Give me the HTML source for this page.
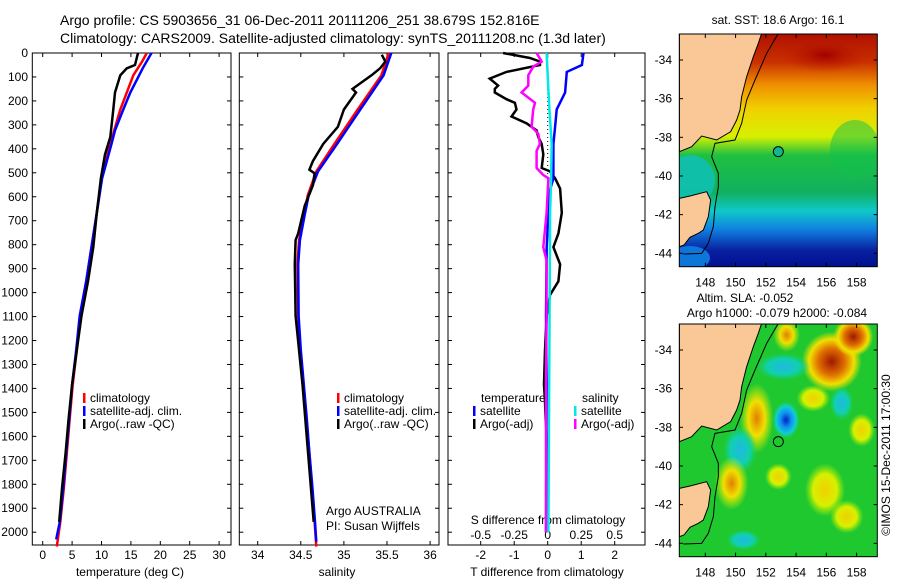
<!DOCTYPE html>
<html><head><meta charset="utf-8">
<style>
body{margin:0;background:#fff;}
svg text{font-family:"Liberation Sans",sans-serif;}
</style></head>
<body>
<svg id="chart" width="900" height="580" viewBox="0 0 900 580" xmlns="http://www.w3.org/2000/svg">
<defs>
<linearGradient id="sstg" x1="0" y1="0" x2="0" y2="1">
<stop offset="0" stop-color="#b01000"/>
<stop offset="0.12" stop-color="#c83000"/>
<stop offset="0.22" stop-color="#f09000"/>
<stop offset="0.32" stop-color="#f0d000"/>
<stop offset="0.44" stop-color="#d8f000"/>
<stop offset="0.52" stop-color="#20c040"/>
<stop offset="0.68" stop-color="#10b060"/>
<stop offset="0.76" stop-color="#10c8c8"/>
<stop offset="0.84" stop-color="#1080e0"/>
<stop offset="0.93" stop-color="#0820a0"/>
<stop offset="1" stop-color="#001090"/>
</linearGradient>
<radialGradient id="hot"><stop offset="0" stop-color="#a01800"/><stop offset="0.45" stop-color="#e07000"/><stop offset="0.75" stop-color="#f0e000"/><stop offset="1" stop-color="#f0e000" stop-opacity="0"/></radialGradient>
<radialGradient id="warm"><stop offset="0" stop-color="#e08000"/><stop offset="0.5" stop-color="#f0e000"/><stop offset="1" stop-color="#d0f000" stop-opacity="0"/></radialGradient>
<radialGradient id="yel"><stop offset="0" stop-color="#f0d000"/><stop offset="0.6" stop-color="#d8f000"/><stop offset="1" stop-color="#a0f000" stop-opacity="0"/></radialGradient>
<radialGradient id="cold"><stop offset="0" stop-color="#0020c0"/><stop offset="0.4" stop-color="#1090f0"/><stop offset="0.75" stop-color="#10d0d0"/><stop offset="1" stop-color="#10d0a0" stop-opacity="0"/></radialGradient>
<radialGradient id="cyan"><stop offset="0" stop-color="#20b8e0"/><stop offset="0.6" stop-color="#10d0b0"/><stop offset="1" stop-color="#10d090" stop-opacity="0"/></radialGradient>
<radialGradient id="sstred"><stop offset="0" stop-color="#a00000"/><stop offset="1" stop-color="#c02000" stop-opacity="0"/></radialGradient>
<clipPath id="m1c"><rect x="679.3" y="34" width="198" height="232.7"/></clipPath>
<clipPath id="m2c"><rect x="679.3" y="324" width="198" height="232.7"/></clipPath>
</defs>

<text x="60" y="25" font-size="14">Argo profile: CS 5903656_31 06-Dec-2011 20111206_251 38.679S 152.816E</text>
<text x="60" y="43" font-size="14">Climatology: CARS2009. Satellite-adjusted climatology: synTS_20111208.nc (1.3d later)</text>

<g id="p1"></g>
<g id="p2"></g>
<g id="p3"></g>

<!-- Map 1 SST -->
<g>
<text x="778" y="24" font-size="12" text-anchor="middle">sat. SST: 18.6 Argo: 16.1</text>
<g clip-path="url(#m1c)">
<rect x="679.3" y="34" width="198" height="232.7" fill="url(#sstg)"/>
<ellipse cx="825" cy="55" rx="45" ry="18" fill="url(#sstred)"/>
<ellipse cx="855" cy="150" rx="25" ry="30" fill="#10c050" opacity="0.5"/>
<ellipse cx="690" cy="180" rx="25" ry="25" fill="#10c0b0" opacity="0.9"/>
<ellipse cx="690" cy="258" rx="20" ry="12" fill="#1080e0" opacity="0.9"/>
<g transform="translate(640,0) scale(0.33333)">
<polygon fill="#f9c896" stroke="#000" stroke-width="3" points="118,100 365,100 355,130 340,170 320,230 305,290 300,330 290,360 272,395 230,420 185,408 155,440 118,455"/>
<polygon fill="#f9c896" stroke="#000" stroke-width="3" points="118,595 150,588 200,575 212,600 205,650 190,690 175,700 150,712 132,735 118,740"/>
<polyline fill="none" stroke="#000" stroke-width="3" points="415,100 380,160 345,240 320,300 305,370 285,420 225,430 215,470 235,520 235,560 225,620 220,680 205,730 185,760 130,762"/>
<circle cx="415" cy="455" r="15" fill="#10b890" stroke="#000" stroke-width="3"/>
</g>
</g>
<rect x="679.3" y="34" width="198" height="232.7" fill="none" stroke="#000"/>
<g id="m1ax"></g>
</g>

<!-- Map 2 SLA -->
<g>
<text x="745" y="302" font-size="12" text-anchor="middle">Altim. SLA: -0.052</text>
<text x="777" y="317" font-size="12" text-anchor="middle">Argo h1000: -0.079 h2000: -0.084</text>
<g clip-path="url(#m2c)">
<rect x="679.3" y="324" width="198" height="232.7" fill="#20c830"/>
<g transform="translate(640,290) scale(0.33333)">
<ellipse cx="575" cy="215" rx="90" ry="90" fill="url(#hot)"/>
<ellipse cx="640" cy="140" rx="60" ry="60" fill="url(#hot)"/>
<ellipse cx="350" cy="385" rx="50" ry="105" fill="url(#warm)"/>
<ellipse cx="440" cy="135" rx="40" ry="50" fill="url(#warm)"/>
<ellipse cx="438" cy="390" rx="40" ry="55" fill="url(#cold)"/>
<ellipse cx="300" cy="480" rx="50" ry="70" fill="url(#cyan)"/>
<ellipse cx="430" cy="230" rx="80" ry="40" fill="url(#cyan)"/>
<ellipse cx="605" cy="340" rx="35" ry="50" fill="url(#cyan)"/>
<ellipse cx="275" cy="580" rx="50" ry="80" fill="url(#warm)"/>
<ellipse cx="555" cy="600" rx="60" ry="80" fill="url(#yel)"/>
<ellipse cx="520" cy="325" rx="50" ry="40" fill="url(#yel)"/>
<ellipse cx="665" cy="420" rx="40" ry="50" fill="url(#yel)"/>
<ellipse cx="415" cy="560" rx="40" ry="40" fill="url(#yel)"/>
<ellipse cx="620" cy="680" rx="50" ry="50" fill="url(#yel)"/>
<ellipse cx="310" cy="750" rx="50" ry="30" fill="url(#cyan)"/>
<polygon fill="#f9c896" stroke="#000" stroke-width="3" points="118,100 365,100 355,130 340,170 320,230 305,290 300,330 290,360 272,395 230,420 185,408 155,440 118,455"/>
<polygon fill="#f9c896" stroke="#000" stroke-width="3" points="118,595 150,588 200,575 212,600 205,650 190,690 175,700 150,712 132,735 118,740"/>
<polyline fill="none" stroke="#000" stroke-width="3" points="415,100 380,160 345,240 320,300 305,370 285,420 225,430 215,470 235,520 235,560 225,620 220,680 205,730 185,760 130,762"/>
<circle cx="415" cy="455" r="15" fill="none" stroke="#000" stroke-width="3"/>
</g>
</g>
<rect x="679.3" y="324" width="198" height="232.7" fill="none" stroke="#000"/>
<g id="m2ax"></g>
</g>
<text transform="translate(890,455) rotate(-90)" font-size="12" text-anchor="middle">©IMOS 15-Dec-2011 17:00:30</text>
</svg>
<script>
// ---- data ----
const depthTicks=[0,100,200,300,400,500,600,700,800,900,1000,1100,1200,1300,1400,1500,1600,1700,1800,1900,2000];
const tempTicks=[0,5,10,15,20,25,30];
const salTicks=[34,34.5,35,35.5,36];
const dTTicks=[-2,-1,0,1,2];
const dSTicks=[-0.5,-0.25,0,0.25,0.5];
const dSLabels=["-0.5","-0.25","0","0.25","0.5"];

const tClimDepth=[0,36,93,165,236,337,380,523,667,810,953,1097,1240,1384,1527,1670,1813,1957,2060];
const tClimVal=[17.7,16.9,15.4,14.3,13.2,12.0,11.5,10.0,9.2,8.3,7.4,6.35,5.8,5.1,4.6,4.1,3.6,3.0,2.4];
const tSatDepth=[0,64,165,236,323,380,523,667,810,953,1097,1240,1384,1527,1670,1813,1957,2030];
const tSatVal=[18.5,17.0,14.9,13.7,12.3,11.7,10.1,9.2,8.3,7.4,6.3,5.7,5.0,4.5,4.0,3.5,2.9,2.3];
const tArgoDepth=[0,50,64,93,165,236,351,423,523,667,810,953,1097,1240,1384,1527,1670,1813,1957];
const tArgoVal=[16.2,15.7,14.3,13.2,12.3,12.0,11.5,10.6,9.9,9.2,8.6,7.7,6.6,5.8,5.0,4.4,3.9,3.3,2.8];

const sClimDepth=[0,93,236,380,494,595,667,781,882,1097,1240,1384,1527,1670,1813,1957,2060];
const sClimVal=[35.52,35.435,35.16,34.89,34.68,34.58,34.545,34.48,34.46,34.47,34.495,34.53,34.565,34.6,34.63,34.66,34.68];
const sSatDepth=[0,93,236,380,494,595,667,781,882,1097,1240,1384,1527,1670,1813,1957,2040];
const sSatVal=[35.55,35.46,35.19,34.92,34.70,34.59,34.55,34.49,34.47,34.475,34.5,34.535,34.57,34.6,34.635,34.665,34.68];
const sArgoDepth=[7,36,64,93,150,165,236,308,380,451,487,502,552,638,753,781,882,1097,1384,1957];
const sArgoVal=[35.44,35.48,35.42,35.32,35.1,35.14,35.0,34.93,34.76,34.64,34.6,34.66,34.64,34.545,34.47,34.44,34.43,34.44,34.52,34.65];

const dDepthA=[0,21,36,50,79,107,136,150,165,193,208,236,265,294,323,351,380,423,480,494,523,566,667,753,810,882,953,1010,1097,1240,1384,1455,1527,1599,1670,2000];
const dTArgo=[-1.33,-0.53,-0.23,-0.23,-1.23,-1.73,-1.48,-1.58,-1.58,-1.23,-0.98,-0.93,-1.08,-0.63,-0.33,-0.28,-0.18,-0.13,-0.18,0.07,0.22,0.37,0.42,0.32,0.17,0.37,0.32,0.07,-0.03,-0.08,-0.11,-0.08,-0.06,-0.03,-0.01,0.0];
const dDepthSat=[0,50,79,165,236,308,380,523,595,667,810,1097,1384,2000];
const dTSat=[1.07,1.02,0.57,0.52,0.27,0.22,0.17,0.17,0.02,0.02,-0.03,-0.05,-0.03,-0.05];
const dDepthS=[0,36,57,93,136,165,208,236,308,337,380,408,480,509,523,667,738,810,867,1097,1384,2000];
const dSArgo=[-0.083,-0.045,-0.108,-0.145,-0.145,-0.195,-0.095,-0.108,-0.12,-0.07,-0.058,-0.083,-0.083,-0.033,0.005,-0.008,-0.02,-0.033,-0.008,-0.008,-0.013,-0.013];
const dDepthC=[0,236,380,523,667,2000];
const dSSat=[-0.008,0.013,0.03,0.025,0.018,0.005];

const latTicks=[-34,-36,-38,-40,-42,-44];
const lonTicks=[148,150,152,154,156,158];

// ---- axes ----
const NS="http://www.w3.org/2000/svg";
function mk(tag,attrs,parent){const e=document.createElementNS(NS,tag);for(const k in attrs)e.setAttribute(k,attrs[k]);parent.appendChild(e);return e;}
const Y0=53, YS=0.2396, YBOT=545;
const yOf=d=>Y0+d*YS;
const xT=t=>42.7+t*5.88;
const xS=s=>257.7+(s-34)*86.2;
const xD=t=>547.7+t*33.5;
const xDS=s=>547.7+s*134;

function frame(g,x0,x1){
  mk('rect',{x:x0,y:Y0,width:x1-x0,height:YBOT-Y0,fill:'none',stroke:'#000'},g);
  depthTicks.forEach(d=>{
    mk('line',{x1:x0,x2:x0+4,y1:yOf(d),y2:yOf(d),stroke:'#000'},g);
    mk('line',{x1:x1-4,x2:x1,y1:yOf(d),y2:yOf(d),stroke:'#000'},g);
  });
}
function line(g,depths,vals,xf,color,name,w){
  const pts=depths.map((d,i)=>xf(vals[i]).toFixed(1)+','+yOf(d).toFixed(1)).join(' ');
  const p=mk('polyline',{points:pts,fill:'none',stroke:color,'stroke-width':w||2.5},g);
  
  
}
function legend(g,x,y,color,label,name){
  mk('rect',{x:x,y:y-5,width:2.5,height:10,fill:color},g);
  const t=mk('text',{x:x+7,y:y+4,'font-size':12},g);t.textContent=label;
  
  
}
const LY=398;
// panel 1
const p1=document.getElementById('p1');
frame(p1,32.3,231);
depthTicks.forEach(d=>{const t=mk('text',{x:28,y:yOf(d)+4,'font-size':12,'text-anchor':'end'},p1);t.textContent=d;
 
 });
tempTicks.forEach(v=>{mk('line',{x1:xT(v),x2:xT(v),y1:YBOT,y2:YBOT-4,stroke:'#000'},p1);mk('line',{x1:xT(v),x2:xT(v),y1:Y0,y2:Y0+4,stroke:'#000'},p1);
 const t=mk('text',{x:xT(v),y:559,'font-size':12,'text-anchor':'middle'},p1);t.textContent=v;
 
 });
{const t=mk('text',{x:130,y:576,'font-size':12,'text-anchor':'middle'},p1);t.textContent='temperature (deg C)';
 
 }
line(p1,tClimDepth,tClimVal,xT,'#ff0000','temperature-climatology-line');
line(p1,tSatDepth,tSatVal,xT,'#0000ff','temperature-satellite-line');
line(p1,tArgoDepth,tArgoVal,xT,'#000000','temperature-argo-line');
legend(p1,83,LY,'#ff0000','climatology','legend-climatology');
legend(p1,83,LY+13,'#0000ff','satellite-adj. clim.','legend-satellite');
legend(p1,83,LY+26,'#000000','Argo(..raw -QC)','legend-argo');

// panel 2
const p2=document.getElementById('p2');
frame(p2,239.3,439);
salTicks.forEach(v=>{mk('line',{x1:xS(v),x2:xS(v),y1:YBOT,y2:YBOT-4,stroke:'#000'},p2);mk('line',{x1:xS(v),x2:xS(v),y1:Y0,y2:Y0+4,stroke:'#000'},p2);
 const t=mk('text',{x:xS(v),y:559,'font-size':12,'text-anchor':'middle'},p2);t.textContent=v;
 
 });
{const t=mk('text',{x:337,y:576,'font-size':12,'text-anchor':'middle'},p2);t.textContent='salinity';
 
 }
line(p2,sClimDepth,sClimVal,xS,'#ff0000','salinity-climatology-line');
line(p2,sSatDepth,sSatVal,xS,'#0000ff','salinity-satellite-line');
line(p2,sArgoDepth,sArgoVal,xS,'#000000','salinity-argo-line');
legend(p2,337,LY,'#ff0000','climatology','legend-climatology-2');
legend(p2,337,LY+13,'#0000ff','satellite-adj. clim.','legend-satellite-2');
legend(p2,337,LY+26,'#000000','Argo(..raw -QC)','legend-argo-2');
{const t=mk('text',{x:326,y:515,'font-size':12},p2);t.textContent='Argo AUSTRALIA';
 
 
 const t2=mk('text',{x:326,y:530,'font-size':12},p2);t2.textContent='PI: Susan Wijffels';
 
 }

// panel 3
const p3=document.getElementById('p3');
frame(p3,448,645);
mk('line',{x1:547.7,x2:547.7,y1:Y0,y2:yOf(700),stroke:'#000','stroke-dasharray':'1,3'},p3);
dTTicks.forEach(v=>{mk('line',{x1:xD(v),x2:xD(v),y1:YBOT,y2:YBOT-4,stroke:'#000'},p3);mk('line',{x1:xD(v),x2:xD(v),y1:Y0,y2:Y0+4,stroke:'#000'},p3);
 const t=mk('text',{x:xD(v),y:559,'font-size':12,'text-anchor':'middle'},p3);t.textContent=v;
 
 });
dSTicks.forEach((v,i)=>{const t=mk('text',{x:xDS(v),y:539,'font-size':12,'text-anchor':'middle'},p3);t.textContent=dSLabels[i];
 
 });
{const t=mk('text',{x:548,y:524,'font-size':12,'text-anchor':'middle'},p3);t.textContent='S difference from climatology';
 
 
 const t2=mk('text',{x:547,y:576,'font-size':12,'text-anchor':'middle'},p3);t2.textContent='T difference from climatology';
 
 }
line(p3,dDepthA,dTArgo,xD,'#000000','t-diff-argo-line');
line(p3,dDepthSat,dTSat,xD,'#0000ff','t-diff-satellite-line');
line(p3,dDepthS,dSArgo,xDS,'#ff00ff','s-diff-argo-line');
line(p3,dDepthC,dSSat,xDS,'#00e8e8','s-diff-satellite-line');
{const t=mk('text',{x:481,y:LY+4,'font-size':12},p3);t.textContent='temperature';
 
 
 const t2=mk('text',{x:582,y:LY+4,'font-size':12},p3);t2.textContent='salinity';
 
 }
legend(p3,473,LY+13,'#0000ff','satellite','legend-t-satellite');
legend(p3,473,LY+26,'#000000','Argo(-adj)','legend-t-argo');
legend(p3,574,LY+13,'#00e8e8','satellite','legend-s-satellite');
legend(p3,574,LY+26,'#ff00ff','Argo(-adj)','legend-s-argo');

// map axes
function mapAxes(id,top){
  const g=document.getElementById(id);
  const bottom=top+232.7;
  const yLat=l=>top+26+(-34-l)*19.33;
  const xLon=l=>705.3+(l-148)*15.13;
  latTicks.forEach(l=>{
    mk('line',{x1:679.3,x2:683,y1:yLat(l),y2:yLat(l),stroke:'#000'},g);
    mk('line',{x1:873.6,x2:877.3,y1:yLat(l),y2:yLat(l),stroke:'#000'},g);
    const t=mk('text',{x:672,y:yLat(l)+4,'font-size':12,'text-anchor':'end'},g);t.textContent=l;
    
    
  });
  lonTicks.forEach(l=>{
    mk('line',{x1:xLon(l),x2:xLon(l),y1:top,y2:top+4,stroke:'#000'},g);
    mk('line',{x1:xLon(l),x2:xLon(l),y1:bottom,y2:bottom-4,stroke:'#000'},g);
    const t=mk('text',{x:xLon(l),y:bottom+20,'font-size':12,'text-anchor':'middle'},g);t.textContent=l;
    
    
  });
}
mapAxes('m1ax',34);
mapAxes('m2ax',324);
</script>
</body></html>
